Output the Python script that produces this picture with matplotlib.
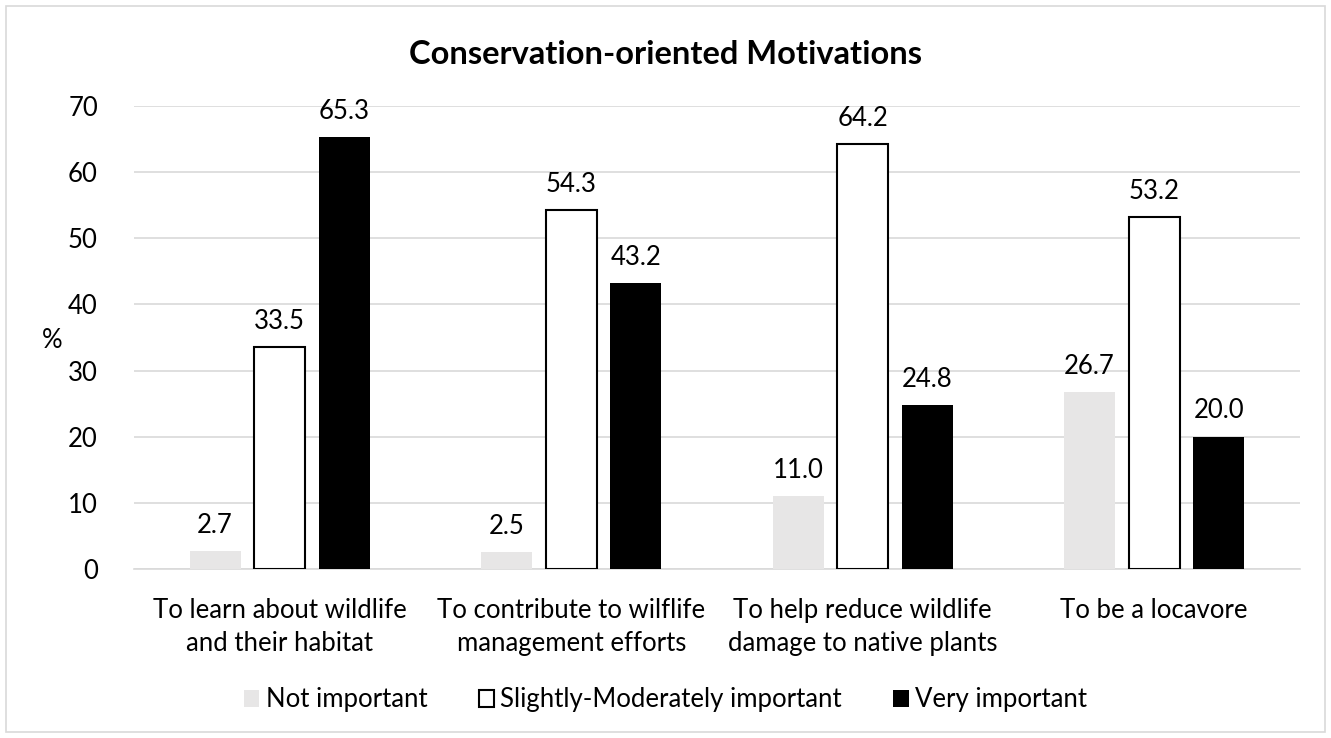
import matplotlib
matplotlib.use("Agg")
import matplotlib.pyplot as plt
import numpy as np
from matplotlib.patches import Rectangle

plt.rcParams['font.family'] = ['Lato', 'DejaVu Sans']

categories = ["To learn about wildlife\nand their habitat",
              "To contribute to wilflife\nmanagement efforts",
              "To help reduce wildlife\ndamage to native plants",
              "To be a locavore"]
series_names = ["Not important", "Slightly-Moderately important", "Very important"]
not_important = [2.7, 2.5, 11.0, 26.7]
slightly_moderately = [33.5, 54.3, 64.2, 53.2]
very_important = [65.3, 43.2, 24.8, 20.0]
yticks = [0, 10, 20, 30, 40, 50, 60, 70]

FS = 18.5

fig = plt.figure(figsize=(13.31, 7.38), dpi=100)
ax = fig.add_axes([134/1331, 1-569/738, (1300-134)/1331, (569-106)/738])

x = np.arange(len(categories))
w = 0.175
off = 0.222
styles = [dict(color="#e7e6e6", edgecolor="#e7e6e6", linewidth=0),
          dict(color="white", edgecolor="black", linewidth=1.5),
          dict(color="black", edgecolor="black", linewidth=0)]
data = [not_important, slightly_moderately, very_important]
handles = []
for i, (vals, st, name) in enumerate(zip(data, styles, series_names)):
    bars = ax.bar(x + (i - 1) * off, vals, w, label=name, zorder=3, **st)
    handles.append(bars)
    for b, v in zip(bars, vals):
        ax.text(b.get_x() + b.get_width() / 2, v + 2.0, f"{v:.1f}",
                ha="center", va="bottom", fontsize=FS, color="#000000")

ax.set_xlim(-0.5, 3.5)
ax.set_ylim(0, 70)
ax.set_yticks(yticks)
ax.set_yticklabels([str(t) for t in yticks], fontsize=FS)
ax.set_xticks(x)
ax.set_xticklabels(categories, fontsize=FS, linespacing=1.37)
ax.tick_params(axis="x", length=0, pad=21)
ax.tick_params(axis="y", length=0, pad=26)
ax.grid(axis="y", color="#d9d9d9", linewidth=1.2, zorder=0)
for s in ["top", "right", "left"]:
    ax.spines[s].set_visible(False)
ax.spines["bottom"].set_color("#d9d9d9")
ax.spines["bottom"].set_linewidth(1.2)
ax.set_ylabel("%", fontsize=FS, rotation=0, va="center", ha="center")
ax.yaxis.set_label_coords(-(134 - 52) / (1300 - 134), 1 - (340 - 106) / (569 - 106))

fig.text(0.5, 1 - 55/738, "Conservation-oriented Motivations", ha="center", va="center",
         fontsize=23.5, fontweight="bold")

leg = fig.legend(handles=handles, labels=series_names, loc="center", bbox_to_anchor=(0.5, 1 - 700/738),
                 ncol=3, frameon=False, fontsize=FS, handlelength=0.6, handleheight=0.6,
                 handletextpad=0.25, columnspacing=2.0)

fig.patches.append(Rectangle((6/1331, 6/738), 1 - 12/1331, 1 - 12/738, transform=fig.transFigure,
                             fill=False, edgecolor="#d9d9d9", linewidth=1.2))

fig.savefig("out.png", dpi=100)
